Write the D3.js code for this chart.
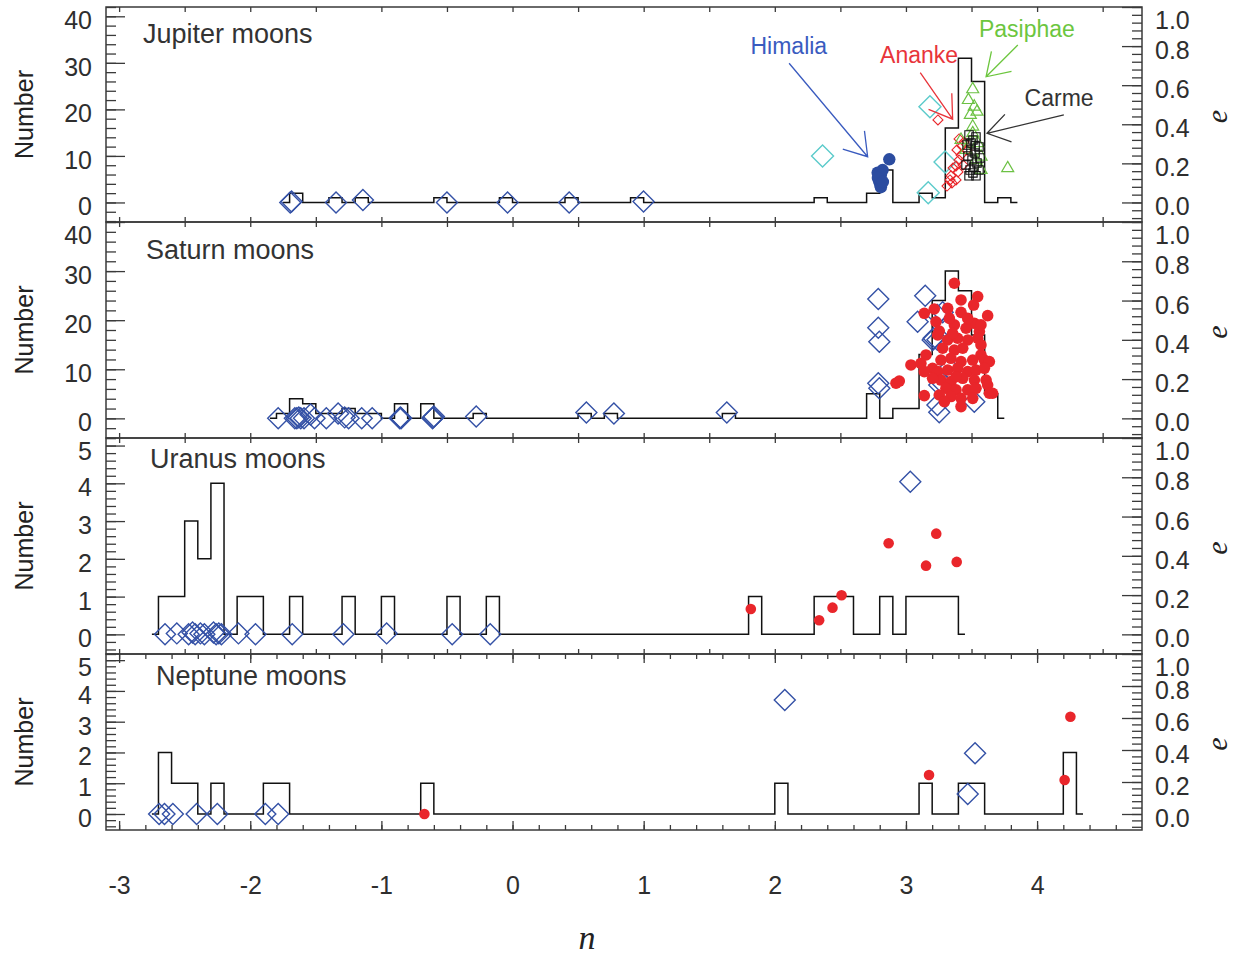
<!DOCTYPE html>
<html>
<head>
<meta charset="utf-8">
<script src="https://cdn.jsdelivr.net/npm/d3@7"></script>
<style>
  body { margin: 0; background: #fff; }
  svg text { font-family: "Liberation Sans", Arial, Helvetica, sans-serif; }
</style>
</head>
<body>
<div id="chart"></div>
<script>
// ---- data (n = x position, e = eccentricity, counts per 0.1-wide bin) ----
const xLabels = [-3, -2, -1, 0, 1, 2, 3, 4];
const binWidth = 0.1;

// Jupiter
const jupHist = [[-1.7,2],[-1.4,1],[-1.2,1],[-0.6,1],[-0.1,1],[0.4,1],[0.9,1],[2.3,1],[2.7,2],[2.8,7],
                 [3.1,2],[3.2,1],[3.3,16],[3.4,31],[3.5,26],[3.7,1]];
const jupRegular = [[-1.695,0],[-1.685,0.005],[-1.346,0],[-1.141,0.013],[-0.50,0],[-0.038,0],[0.432,0],[0.999,0.005]];
const jupProgradeOther = [[2.364,0.238],[3.183,0.49],[3.298,0.207],[3.17,0.05]];
const jupHimalia = [[2.873,0.221],[2.784,0.152],[2.822,0.166],[2.809,0.141],[2.796,0.109],[2.804,0.09],
                    [2.809,0.078],[2.786,0.125],[2.824,0.105]];
const jupAnanke = [[3.313,0.084],[3.351,0.10],[3.382,0.115],[3.344,0.136],[3.397,0.156],[3.382,0.187],
                   [3.405,0.217],[3.42,0.243],[3.389,0.269],[3.427,0.289],[3.443,0.309],[3.405,0.325],
                   [3.359,0.176],[3.336,0.115],[3.435,0.192],[3.466,0.269],[3.244,0.422]];
const jupPasiphae = [[3.509,0.579],[3.476,0.524],[3.521,0.49],[3.542,0.464],[3.491,0.448],[3.509,0.388],
                     [3.509,0.354],[3.42,0.32],[3.547,0.303],[3.573,0.234],[3.573,0.166],[3.776,0.175],
                     [3.458,0.269],[3.534,0.217]];
const jupCarme = [[3.481,0.345],[3.534,0.335],[3.511,0.32],[3.466,0.294],[3.557,0.284],[3.496,0.269],
                  [3.527,0.253],[3.473,0.238],[3.565,0.228],[3.504,0.217],[3.542,0.202],[3.458,0.192],
                  [3.519,0.182],[3.489,0.166],[3.557,0.166],[3.511,0.151],[3.481,0.136],[3.534,0.136],
                  [3.496,0.304],[3.527,0.289]];
const jupNotes = [
  { label: "Himalia",  color: "#3a5bbf", text: [2.107, 0.80],  tail: [2.109, 0.712], tip: [2.708, 0.234] },
  { label: "Ananke",   color: "#e8343a", text: [3.10, 0.754],  tail: [3.109, 0.664], tip: [3.356, 0.426] },
  { label: "Pasiphae", color: "#6cc63e", text: [3.922, 0.887], tail: [3.853, 0.806], tip: [3.611, 0.643] },
  { label: "Carme",    color: "#333333", text: [4.168, 0.537], tail: [4.204, 0.448], tip: [3.618, 0.354] }
];

// Saturn
const satHist = [[-1.8,1],[-1.7,4],[-1.6,3],[-1.5,1],[-1.4,1],[-1.3,2],[-1.2,1],[-1.1,1],[-0.9,3],[-0.7,3],
                 [-0.3,1],[0.5,1],[0.7,1],[1.6,1],[2.7,5],[2.9,2],[3.0,2],[3.1,13],[3.2,24],[3.3,30],
                 [3.4,26],[3.5,17],[3.6,5]];
const satPrograde = [[-1.787,0],[-1.66,0],[-1.645,0],[-1.63,0.005],[-1.615,0],[-1.59,0],[-1.54,0.02],[-1.51,0],
                     [-1.42,0],[-1.33,0.025],[-1.28,0.005],[-1.25,0],[-1.15,0],[-1.07,0],[-0.86,0],[-0.855,0.005],
                     [-0.85,0],[-0.61,0],[-0.605,0.005],[-0.60,0.01],[-0.277,0.01],[0.563,0.03],[0.773,0.025],
                     [1.634,0.03],
                     [2.789,0.608],[2.789,0.462],[2.797,0.39],[2.789,0.179],[2.797,0.153],[3.147,0.625],
                     [3.089,0.492],[3.28,0.54],[3.24,0.526],[3.211,0.408],[3.24,0.40],[3.204,0.399],
                     [3.254,0.17],[3.267,0.187],[3.24,0.068],[3.254,0.031],[3.521,0.085],[3.331,0.255],
                     [3.318,0.476]];
const satRetrograde = [[3.369,0.688],[3.547,0.62],[3.42,0.603],[3.516,0.577],[3.14,0.535],[3.216,0.557],
                       [3.623,0.523],[3.42,0.54],[3.229,0.492],[3.369,0.476],[3.522,0.484],[3.254,0.445],
                       [3.458,0.459],[3.56,0.442],[3.318,0.399],[3.394,0.408],[3.471,0.399],[3.547,0.408],
                       [3.28,0.357],[3.369,0.348],[3.433,0.357],[3.572,0.323],[3.153,0.323],[3.038,0.272],
                       [3.114,0.28],[3.203,0.255],[3.267,0.297],[3.343,0.306],[3.42,0.289],[3.509,0.297],
                       [3.598,0.297],[3.636,0.289],[3.14,0.238],[3.242,0.238],[3.318,0.246],[3.394,0.255],
                       [3.471,0.238],[3.534,0.246],[3.598,0.255],[3.267,0.195],[3.343,0.187],[3.433,0.204],
                       [3.522,0.195],[3.611,0.195],[3.305,0.153],[3.382,0.145],[3.471,0.145],[3.534,0.153],
                       [3.623,0.17],[3.14,0.116],[3.254,0.119],[3.343,0.111],[3.42,0.102],[3.509,0.102],
                       [3.636,0.128],[3.293,0.085],[3.42,0.06],[3.661,0.128],[2.949,0.19],[2.924,0.179],
                       [3.572,0.476],[3.331,0.509],[3.242,0.425],[3.356,0.433],[3.471,0.509],[3.318,0.56],
                       [3.572,0.374],[3.203,0.204],[3.382,0.212]];

// Uranus
const uraHist = [[-2.7,1],[-2.6,1],[-2.5,3],[-2.4,2],[-2.3,4],[-2.1,1],[-2.0,1],[-1.7,1],[-1.3,1],[-1.0,1],
                 [-0.5,1],[-0.2,1],[1.8,1],[2.3,1],[2.4,1],[2.5,1],[2.8,1],[3.0,1],[3.1,1],[3.2,1],[3.3,1]];
const uraPrograde = [[-2.65,0],[-2.56,0.005],[-2.47,0],[-2.44,0.01],[-2.42,0],[-2.38,0.005],[-2.35,0],
                     [-2.28,0.01],[-2.26,0],[-2.24,0.005],[-2.22,0],[-2.09,0.005],[-1.96,0],[-1.68,0],
                     [-1.29,0],[-0.96,0.005],[-0.46,0],[-0.17,0],[3.033,0.777]];
const uraRetrograde = [[1.817,0.129],[2.338,0.072],[2.44,0.136],[2.509,0.199],[2.868,0.464],[3.153,0.35],
                       [3.231,0.513],[3.387,0.369]];

// Neptune
const nepHist = [[-2.7,2],[-2.6,1],[-2.5,1],[-2.3,1],[-1.9,1],[-1.8,1],[-0.7,1],[2.0,1],[3.1,1],[3.4,1],
                 [3.5,1],[4.2,2]];
const nepPrograde = [[-2.695,0],[-2.654,0],[-2.59,0],[-2.409,0],[-2.251,0],[-1.885,0],[-1.787,0],
                     [2.076,0.7125],[3.527,0.379],[3.471,0.125]];
const nepRetrograde = [[-0.672,0],[3.176,0.244],[4.21,0.2125],[4.254,0.608]];

// ---- layout ----
const width = 1238, height = 958;
const left = 106, right = 1142;
const frameColor = "#3a3a3a", labelColor = "#2e2e2e";
const blue = "#3451a6", red = "#e9262b", green = "#6cc144", cyan = "#5ccbcb";

const svg = d3.select("#chart").append("svg")
  .attr("width", width).attr("height", height)
  .attr("viewBox", `0 0 ${width} ${height}`);

const xScale = d3.scaleLinear().domain([-3.1, 4.8]).range([left, right]);
const eDomain = [-0.1, 1.0];

const halfTicks = d3.range(-6, 10).map(i => i / 2);
const panels = [
  { title: "Jupiter moons", titleX: 143, titleDy: 36, top: 7, bottom: 222, count: [-4.2, 42],
    major: d3.range(0, 41, 10), minor: d3.range(-4, 43, 2), hist: jupHist, notes: jupNotes,
    xMajor: halfTicks, xMinor: [],
    layers: [
      { data: jupRegular, shape: "diamond", r: 10.5, color: blue, sw: 1.4 },
      { data: jupProgradeOther, shape: "diamond", r: 11, color: cyan, sw: 1.4 },
      { data: jupHimalia, shape: "circle", r: 6.2, color: "#2b4ca0", fill: true },
      { data: jupAnanke, shape: "diamond", r: 5, color: red, sw: 1.1 },
      { data: jupPasiphae, shape: "triangle", r: 6.9, color: green, sw: 1.2 },
      { data: jupCarme, shape: "square", r: 4.2, color: "#111", sw: 1.1 }
    ] },
  { title: "Saturn moons", titleX: 146, titleDy: 37, top: 222, bottom: 438, count: [-4, 40],
    major: d3.range(0, 41, 10), minor: d3.range(-4, 41, 2), hist: satHist, notes: [],
    xMajor: halfTicks, xMinor: [],
    layers: [
      { data: satPrograde, shape: "diamond", r: 10.5, color: blue, sw: 1.4 },
      { data: satRetrograde, shape: "circle", r: 5.8, color: red, fill: true }
    ] },
  { title: "Uranus moons", titleX: 150, titleDy: 30, top: 438, bottom: 654, count: [-0.52, 5.2],
    major: d3.range(0, 6), minor: d3.range(-2, 27).map(i => i / 5), hist: uraHist, notes: [],
    xMajor: halfTicks, xMinor: [],
    layers: [
      { data: uraPrograde, shape: "diamond", r: 10.5, color: blue, sw: 1.4 },
      { data: uraRetrograde, shape: "circle", r: 5.3, color: red, fill: true }
    ] },
  { title: "Neptune moons", titleX: 156, titleDy: 31, top: 654, bottom: 830, count: [-0.52, 5.2],
    major: d3.range(0, 6), minor: d3.range(-2, 27).map(i => i / 5), hist: nepHist, notes: [],
    xMajor: d3.range(-3, 5), xMinor: d3.range(-15, 24).map(i => i / 5),
    layers: [
      { data: nepPrograde, shape: "diamond", r: 10.5, color: blue, sw: 1.4 },
      { data: nepRetrograde, shape: "circle", r: 5.3, color: red, fill: true }
    ] }
];

const shapes = {
  diamond: r => `M0,${-r}L${r},0L0,${r}L${-r},0Z`,
  square: r => `M${-r},${-r}H${r}V${r}H${-r}Z`,
  triangle: r => `M0,${-r}L${r * 0.87},${r * 0.5}L${-r * 0.87},${r * 0.5}Z`
};

function styleAxis(g) {
  g.attr("font-size", null).attr("font-family", null);
  g.select(".domain").remove();
  g.selectAll("line").attr("stroke", frameColor).attr("stroke-width", 1.3);
  g.selectAll("text").attr("fill", labelColor).style("font-size", "25px");
}

// keep the top label inside its panel, like the original figure
function clampTopLabels(g, scale, top) {
  g.selectAll(".tick text")
    .attr("y", d => Math.max(0, top + 9 - scale(d)))
    .attr("dy", "0.5em");
}

panels.forEach(p => {
  const y = d3.scaleLinear().domain(p.count).range([p.bottom, p.top]);
  const ye = d3.scaleLinear().domain(eDomain).range([p.bottom, p.top]);
  const g = svg.append("g");

  // histogram as a step line
  const steps = [[p.hist[0][0] - binWidth / 2, 0]];
  p.hist.forEach((b, i) => {
    steps.push([b[0], b[1]]);
    const next = p.hist[i + 1];
    const binRight = b[0] + binWidth;
    if (!next || next[0] - binRight > 1e-6) steps.push([binRight, 0]);
  });
  steps.push([p.hist[p.hist.length - 1][0] + binWidth * 1.5, 0]);
  g.append("path")
    .datum(steps)
    .attr("fill", "none")
    .attr("stroke", "#111")
    .attr("stroke-width", 1.5)
    .attr("d", d3.line().x(d => xScale(d[0])).y(d => y(d[1])).curve(d3.curveStepAfter));

  // moons
  p.layers.forEach(layer => {
    const sel = g.append("g").selectAll(".m").data(layer.data);
    if (layer.shape === "circle") {
      sel.join("circle")
        .attr("cx", d => xScale(d[0]))
        .attr("cy", d => ye(d[1]))
        .attr("r", layer.r)
        .attr("fill", layer.color);
    } else {
      sel.join("path")
        .attr("transform", d => `translate(${xScale(d[0])},${ye(d[1])})`)
        .attr("d", shapes[layer.shape](layer.r))
        .attr("fill", "none")
        .attr("stroke", layer.color)
        .attr("stroke-width", layer.sw);
    }
  });

  // annotations with arrows
  p.notes.forEach(n => {
    const tip = [xScale(n.tip[0]), ye(n.tip[1])];
    const tail = [xScale(n.tail[0]), ye(n.tail[1])];
    const len = Math.hypot(tail[0] - tip[0], tail[1] - tip[1]);
    const ux = (tail[0] - tip[0]) / len, uy = (tail[1] - tip[1]) / len;
    const a = 33 * Math.PI / 180, L = 26;
    const arm = s => [tip[0] + L * (ux * Math.cos(s * a) - uy * Math.sin(s * a)),
                      tip[1] + L * (ux * Math.sin(s * a) + uy * Math.cos(s * a))];
    const a1 = arm(1), a2 = arm(-1);
    g.append("path")
      .attr("d", `M${tail}L${tip}M${a1}L${tip}L${a2}`)
      .attr("fill", "none")
      .attr("stroke", n.color)
      .attr("stroke-width", 1.3);
    g.append("text")
      .attr("x", xScale(n.text[0]))
      .attr("y", ye(n.text[1]))
      .attr("dy", "0.35em")
      .attr("text-anchor", "middle")
      .attr("fill", n.color)
      .style("font-size", "23px")
      .text(n.label);
  });

  // left axis: counts
  const leftMinor = g.append("g").attr("transform", `translate(${left},0)`)
    .call(d3.axisLeft(y).tickValues(p.minor.filter(v => v >= p.count[0])).tickSize(-10).tickFormat(""));
  styleAxis(leftMinor);
  const leftMajor = g.append("g").attr("transform", `translate(${left},0)`)
    .call(d3.axisLeft(y).tickValues(p.major).tickSize(-19).tickPadding(14).tickFormat(d3.format("d")));
  styleAxis(leftMajor);
  clampTopLabels(leftMajor, y, p.top);

  // right axis: eccentricity
  const rightMinor = g.append("g").attr("transform", `translate(${right},0)`)
    .call(d3.axisRight(ye).tickValues(d3.range(-2, 26).map(i => i / 25)).tickSize(-10).tickFormat(""));
  styleAxis(rightMinor);
  const rightMajor = g.append("g").attr("transform", `translate(${right},0)`)
    .call(d3.axisRight(ye).tickValues(d3.range(0, 6).map(i => i / 5)).tickSize(-20).tickPadding(13)
      .tickFormat(d3.format(".1f")));
  styleAxis(rightMajor);
  clampTopLabels(rightMajor, ye, p.top);

  // ticks along top and bottom edges
  [[d3.axisTop, p.top], [d3.axisBottom, p.bottom]].forEach(([axis, yy]) => {
    const big = p.xMinor.length ? 9 : 5;
    const gm = g.append("g").attr("transform", `translate(0,${yy})`)
      .call(axis(xScale).tickValues(p.xMajor).tickSize(-big).tickFormat(""));
    styleAxis(gm);
    if (p.xMinor.length) {
      const gn = g.append("g").attr("transform", `translate(0,${yy})`)
        .call(axis(xScale).tickValues(p.xMinor).tickSize(-5).tickFormat(""));
      styleAxis(gn);
    }
  });

  // frame
  g.append("rect")
    .attr("x", left).attr("y", p.top)
    .attr("width", right - left).attr("height", p.bottom - p.top)
    .attr("fill", "none").attr("stroke", frameColor).attr("stroke-width", 1.5);

  // titles
  g.append("text")
    .attr("x", p.titleX).attr("y", p.top + p.titleDy)
    .attr("fill", "#333")
    .style("font-size", "27px")
    .text(p.title);

  const cy = (p.top + p.bottom) / 2;
  g.append("text")
    .attr("transform", `translate(33,${cy}) rotate(-90)`)
    .attr("text-anchor", "middle")
    .attr("fill", "#222")
    .style("font-size", "25px")
    .text("Number");
  g.append("text")
    .attr("transform", `translate(1227,${cy + 2}) rotate(-90)`)
    .attr("text-anchor", "middle")
    .attr("fill", "#222")
    .style("font-family", "'Liberation Serif', 'Times New Roman', serif")
    .style("font-style", "italic")
    .style("font-size", "30px")
    .text("e");
});

// x labels under the bottom panel
const bottomY = panels[panels.length - 1].bottom;
const xAxis = svg.append("g").attr("transform", `translate(0,${bottomY})`)
  .call(d3.axisBottom(xScale).tickValues(xLabels).tickSize(0).tickPadding(46).tickFormat(d => String(d)));
styleAxis(xAxis);

svg.append("text")
  .attr("x", 587).attr("y", 949)
  .attr("text-anchor", "middle")
  .attr("fill", "#222")
  .style("font-family", "'Liberation Serif', 'Times New Roman', serif")
  .style("font-style", "italic")
  .style("font-size", "34px")
  .text("n");
</script>
</body>
</html>
